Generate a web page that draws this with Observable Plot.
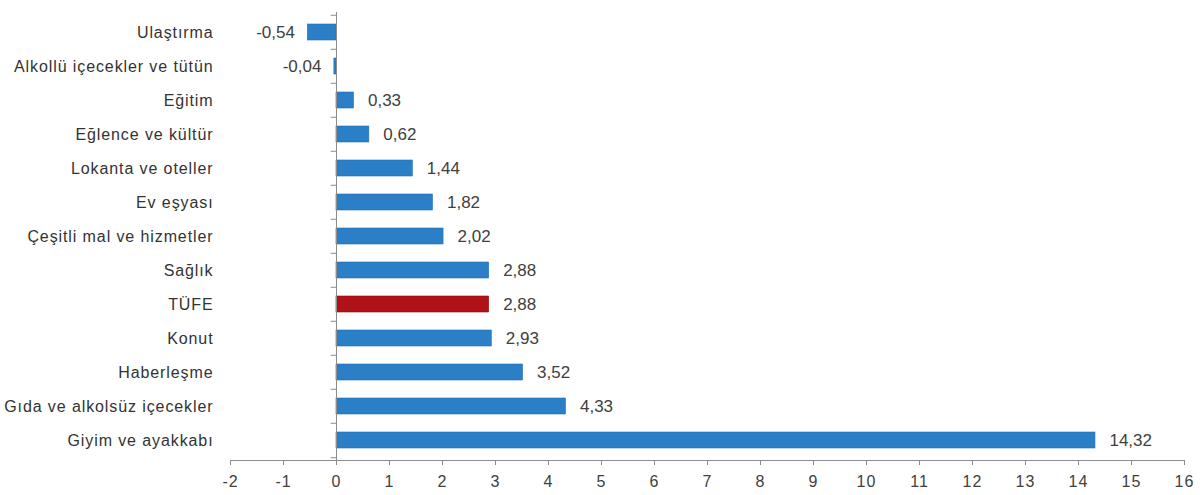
<!DOCTYPE html>
<html>
<head>
<meta charset="utf-8">
<script src="https://cdn.jsdelivr.net/npm/d3@7"></script>
<script src="https://cdn.jsdelivr.net/npm/@observablehq/plot@0.6"></script>
<style>
  html, body { margin: 0; padding: 0; background: #fff; }
  #chart svg { display: block; }
  #chart svg g[aria-label="y-axis tick label"] text { letter-spacing: 0.9px; }
  #chart svg g[aria-label="x-axis tick label"] text { letter-spacing: 1px; }
</style>
</head>
<body>
<div id="chart"></div>
<script>
const categories = [
  "Ulaştırma",
  "Alkollü içecekler ve tütün",
  "Eğitim",
  "Eğlence ve kültür",
  "Lokanta ve oteller",
  "Ev eşyası",
  "Çeşitli mal ve hizmetler",
  "Sağlık",
  "TÜFE",
  "Konut",
  "Haberleşme",
  "Gıda ve alkolsüz içecekler",
  "Giyim ve ayakkabı"
];
const values = [-0.54, -0.04, 0.33, 0.62, 1.44, 1.82, 2.02, 2.88, 2.88, 2.93, 3.52, 4.33, 14.32];
const highlight = "TÜFE";
const xTicks = d3.range(-2, 17, 1);

const data = categories.map((c, i) => ({cat: c, v: values[i]}));
const fmt = v => v.toFixed(2).replace(".", ",");

const W = 1200, H = 495;
const mTop = 12, mBottom = 35;
const step = (H - mTop - mBottom) / categories.length;

const chart = Plot.plot({
  width: W,
  height: H,
  marginLeft: 230,
  marginRight: 16,
  marginTop: mTop,
  marginBottom: mBottom,
  style: {fontFamily: "'Liberation Sans', Arial, sans-serif", color: "#404040", background: "#fff"},
  x: {domain: [-2, 16], label: null},
  y: {domain: categories, paddingInner: 0.54, paddingOuter: 0.27, label: null},
  marks: [
    Plot.barX(data, {
      x: "v", y: "cat",
      fill: d => d.cat === highlight ? "#b01217" : "#2b7fc6",
      stroke: d => d.cat === highlight ? "#8a0c10" : "#2470b3",
      strokeWidth: 0.6
    }),
    Plot.ruleX([0], {stroke: "#8c8c8c", strokeWidth: 1}),
    Plot.ruleY(categories, {y: d => d, x1: -0.1, x2: 0, dy: -step / 2, stroke: "#8c8c8c"}),
    Plot.ruleY([categories[categories.length - 1]], {y: d => d, x1: -0.1, x2: 0, dy: step / 2, stroke: "#8c8c8c"}),
    Plot.axisX({ticks: xTicks, tickFormat: d => String(d), tickSize: 5, tickPadding: 10, stroke: "#8c8c8c", fontSize: 16, color: "#404040", label: null}),
    Plot.frame({anchor: "bottom", stroke: "#8c8c8c"}),
    Plot.axisY({tickSize: 0, tickPadding: 17, fontSize: 16, color: "#333", label: null}),
    Plot.text(data.filter(d => d.v < 0), {
      x: "v", y: "cat",
      text: d => fmt(d.v),
      textAnchor: "end",
      dx: -13,
      fontSize: 17,
      fill: "#404040"
    }),
    Plot.text(data.filter(d => d.v >= 0), {
      x: "v", y: "cat",
      text: d => fmt(d.v),
      textAnchor: "start",
      dx: 14,
      fontSize: 17,
      fill: "#404040"
    })
  ]
});
document.getElementById("chart").appendChild(chart);
</script>
</body>
</html>
